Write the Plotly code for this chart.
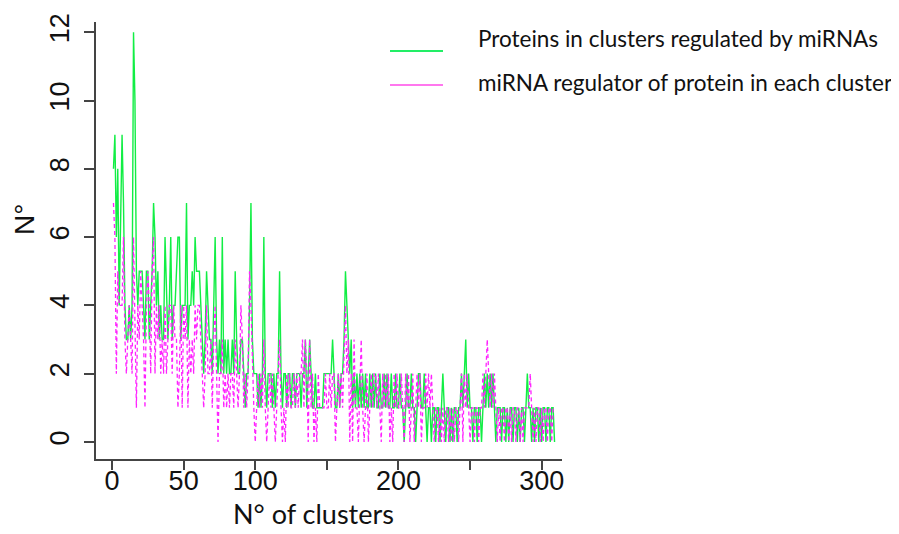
import plotly.graph_objects as go

# Proteins in clusters regulated by miRNAs (green)
proteins = [
    8, 9, 6, 8, 4, 6, 9, 7, 4, 3,
    3, 4, 3, 4, 12, 10, 5, 4, 5, 5,
    5, 4, 3, 5, 5, 3, 4, 5, 7, 6,
    4, 5, 3, 4, 3, 3, 6, 4, 3, 4,
    6, 3, 4, 4, 5, 6, 6, 3, 4, 4,
    4, 7, 3, 4, 4, 5, 4, 6, 5, 5,
    5, 4, 3, 2, 3, 5, 4, 3, 3, 2,
    4, 6, 3, 2, 3, 2, 6, 2, 3, 2,
    3, 2, 2, 3, 2, 5, 3, 2, 2, 3,
    3, 2, 1, 2, 2, 4, 7, 3, 2, 2,
    2, 1, 2, 1, 2, 6, 2, 1, 2, 2,
    2, 1, 2, 1, 2, 2, 5, 2, 1, 2,
    2, 1, 2, 2, 1, 2, 2, 1, 2, 2,
    2, 1, 2, 2, 3, 1, 2, 3, 2, 1,
    1, 2, 1, 1, 1, 1, 1, 2, 2, 2,
    2, 2, 2, 3, 2, 1, 1, 2, 1, 2,
    2, 3, 5, 4, 3, 2, 3, 1, 2, 1,
    2, 1, 2, 1, 2, 1, 2, 1, 1, 2,
    1, 2, 1, 2, 1, 1, 2, 1, 1, 2,
    1, 2, 1, 1, 2, 1, 1, 2, 1, 1,
    2, 1, 1, 0, 1, 2, 1, 1, 2, 1,
    1, 0, 1, 2, 2, 1, 1, 2, 1, 0,
    1, 1, 0, 1, 1, 0, 1, 1, 0, 1,
    2, 1, 0, 1, 1, 0, 1, 0, 1, 1,
    0, 1, 1, 2, 1, 2, 3, 1, 2, 1,
    1, 0, 1, 1, 0, 1, 1, 0, 1, 2,
    1, 2, 1, 2, 1, 2, 1, 0, 1, 1,
    1, 0, 1, 1, 0, 1, 0, 1, 1, 0,
    1, 1, 0, 1, 0, 1, 1, 0, 1, 2,
    1, 1, 0, 1, 0, 1, 1, 0, 1, 0,
    1, 1, 0, 1, 1, 0, 1, 1, 0,
]

# miRNA regulator of protein in each cluster (magenta, dashed)
mirnas = [
    7, 6, 2, 5, 4, 4, 4, 6, 3, 2,
    3, 4, 3, 2, 6, 4, 1, 4, 3, 5,
    4, 3, 1, 4, 5, 4, 2, 5, 6, 2,
    4, 3, 4, 2, 3, 2, 4, 2, 3, 4,
    4, 2, 4, 3, 3, 1, 2, 4, 1, 4,
    3, 4, 1, 3, 2, 3, 2, 4, 3, 4,
    4, 3, 2, 1, 2, 4, 2, 2, 3, 1,
    3, 4, 2, 0, 2, 2, 3, 1, 2, 1,
    2, 1, 2, 2, 1, 3, 2, 1, 2, 4,
    3, 1, 2, 1, 2, 5, 4, 2, 1, 0,
    1, 2, 1, 2, 1, 3, 1, 0, 1, 2,
    1, 2, 1, 0, 1, 2, 3, 1, 0, 1,
    0, 2, 1, 2, 1, 1, 2, 1, 2, 1,
    2, 2, 3, 1, 3, 2, 0, 3, 1, 2,
    0, 1, 0, 2, 1, 1, 1, 1, 2, 1,
    1, 2, 1, 2, 2, 0, 1, 2, 1, 2,
    1, 3, 4, 2, 3, 0, 2, 0, 3, 1,
    1, 0, 2, 3, 1, 0, 1, 2, 0, 1,
    2, 1, 2, 2, 1, 2, 1, 0, 2, 1,
    2, 1, 2, 0, 1, 0, 2, 1, 2, 1,
    1, 2, 1, 0, 2, 1, 2, 0, 1, 2,
    0, 1, 2, 1, 2, 0, 1, 1, 2, 1,
    2, 1, 2, 1, 0, 1, 1, 0, 1, 0,
    1, 0, 1, 1, 0, 1, 0, 1, 0, 1,
    1, 0, 1, 2, 0, 2, 1, 2, 1, 0,
    1, 1, 0, 1, 1, 0, 1, 1, 2, 1,
    2, 3, 2, 1, 2, 1, 2, 1, 0, 1,
    0, 1, 1, 0, 1, 1, 0, 1, 0, 1,
    1, 0, 1, 1, 0, 1, 0, 1, 1, 1,
    1, 2, 1, 0, 1, 0, 1, 1, 0, 1,
    0, 1, 1, 0, 1, 1, 0, 1, 1,
]

clusters = list(range(1, len(proteins) + 1))

x_tickvals = [0, 50, 100, 150, 200, 250, 300]
x_ticktext = ["0", "50", "100", "", "200", "", "300"]
y_tickvals = [0, 2, 4, 6, 8, 10, 12]

series_names = [
    "Proteins in clusters regulated by miRNAs",
    "miRNA regulator of protein in each cluster",
]
x_title = "N° of clusters"
y_title = "N°"

GREEN = "#11EE44"
MAGENTA = "#FF22FF"
AXIS = "#444444"

fig = go.Figure()
fig.add_trace(go.Scatter(
    x=clusters, y=proteins, mode="lines", name=series_names[0],
    line=dict(color=GREEN, width=1.4), showlegend=False,
))
fig.add_trace(go.Scatter(
    x=clusters, y=mirnas, mode="lines", name=series_names[1],
    line=dict(color=MAGENTA, width=1.3, dash="4px,3px"), showlegend=False,
))

tick_font = dict(family="Liberation Sans, Arial", size=27, color="#111111")

# the page body adds an 8px offset, so the plot box is placed 8px up/left
fig.update_layout(
    template="none",
    width=899, height=534,
    margin=dict(l=88, r=345, t=14, b=83, autoexpand=False),
    plot_bgcolor="white", paper_bgcolor="white",
    xaxis=dict(
        range=[-11.2, 314.2], showgrid=False, zeroline=False, automargin=False,
        showline=True, linecolor=AXIS, linewidth=1.5,
        ticks="outside", ticklen=9, tickwidth=1.5, tickcolor=AXIS,
        tickvals=x_tickvals, ticktext=x_ticktext, tickfont=tick_font,
        ticklabelstandoff=-12,
    ),
    yaxis=dict(
        range=[-0.5, 12.3], showgrid=False, zeroline=False, automargin=False,
        showline=True, linecolor=AXIS, linewidth=1.5,
        ticks="outside", ticklen=10, tickwidth=1.5, tickcolor=AXIS,
        tickvals=y_tickvals, tickangle=-90, tickfont=tick_font,
        ticklabelstandoff=4,
    ),
    showlegend=False,
)

def px_to_paper(px, py):
    return (px - 96) / 466, (459 - py) / 437

label_font = dict(family="Lato, Open Sans, sans-serif", size=27, color="#111111")
ax, ay = px_to_paper(313, 514)
fig.add_annotation(text=x_title, xref="paper", yref="paper", x=ax, y=ay,
                   xanchor="center", yanchor="middle", showarrow=False, font=label_font,
                   borderpad=0)
ax, ay = px_to_paper(24, 220)
fig.add_annotation(text=y_title, xref="paper", yref="paper", x=ax, y=ay, textangle=-90,
                   xanchor="center", yanchor="middle", showarrow=False,
                   font=dict(family="Liberation Sans, Arial", size=28, color="#111111"))

# legend drawn manually (line samples + labels)
leg_font = dict(family="Lato, Open Sans, sans-serif", size=22.5, color="#111111")
for (ly, ty, col, name) in [(51, 39, "#22EE66", series_names[0]), (85, 82, "#FF77EE", series_names[1])]:
    x0, y0 = px_to_paper(390, ly)
    x1, _ = px_to_paper(443, ly)
    fig.add_shape(type="line", xref="paper", yref="paper", x0=x0, x1=x1, y0=y0, y1=y0,
                  line=dict(color=col, width=2))
    tx, tyy = px_to_paper(476, ty)
    fig.add_annotation(text=name, xref="paper", yref="paper", x=tx, y=tyy,
                       xanchor="left", yanchor="middle", showarrow=False, font=leg_font)

fig.write_html("out.html")
